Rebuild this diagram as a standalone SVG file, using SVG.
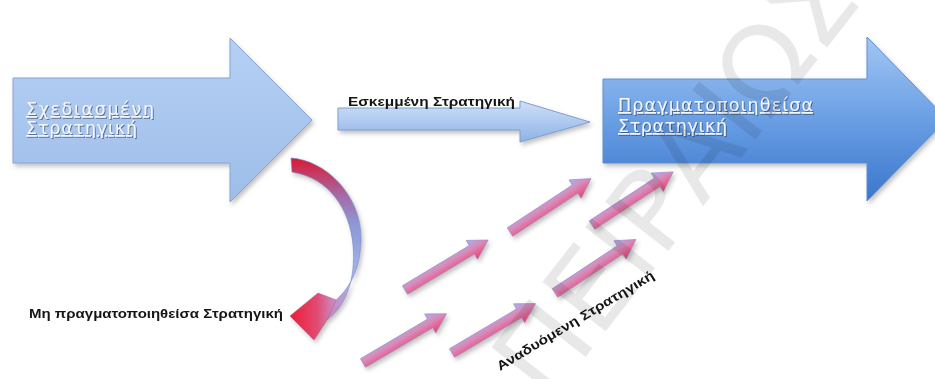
<svg xmlns="http://www.w3.org/2000/svg" width="935" height="379" viewBox="0 0 935 379">
<style>
.lbl{font-family:"DejaVu Sans","Liberation Sans",sans-serif;font-size:17.5px;fill:#f3f6ff;text-decoration:underline}
.cap{font-family:"Liberation Sans","DejaVu Sans",sans-serif;font-weight:bold;font-size:12.5px;fill:#151515}
.cap2{font-family:"Liberation Sans","DejaVu Sans",sans-serif;font-weight:bold;font-size:13px;fill:#151515}
.wm{font-family:"DejaVu Sans",sans-serif;font-size:110px;fill:#000;fill-opacity:0.09}
</style>
<defs>
<filter id="sh" x="-10%" y="-10%" width="130%" height="130%">
<feDropShadow dx="2" dy="3" stdDeviation="2" flood-color="#555" flood-opacity="0.35"/>
</filter>
<filter id="tsh" x="-5%" y="-20%" width="110%" height="150%">
<feDropShadow dx="1" dy="1" stdDeviation="0.6" flood-color="#203050" flood-opacity="0.6"/>
</filter>
<linearGradient id="gL" x1="0" y1="38" x2="0" y2="202" gradientUnits="userSpaceOnUse">
<stop offset="0" stop-color="#b6d0f4"/><stop offset="1" stop-color="#9dbde9"/>
</linearGradient>
<linearGradient id="gR" x1="0" y1="37" x2="0" y2="201" gradientUnits="userSpaceOnUse">
<stop offset="0" stop-color="#a2c6f5"/><stop offset="0.5" stop-color="#6a9fe4"/><stop offset="1" stop-color="#3a76cc"/>
</linearGradient>
<linearGradient id="gM" x1="0" y1="101" x2="0" y2="142" gradientUnits="userSpaceOnUse">
<stop offset="0" stop-color="#cfe0f8"/><stop offset="1" stop-color="#8fb2e6"/>
</linearGradient>
<linearGradient id="gC" x1="0" y1="157" x2="0" y2="310" gradientUnits="userSpaceOnUse">
<stop offset="0" stop-color="#dc1630"/><stop offset="0.25" stop-color="#a56aa6"/><stop offset="0.45" stop-color="#8c9ad8"/><stop offset="0.8" stop-color="#a3b6f0"/><stop offset="1" stop-color="#c58ac0"/>
</linearGradient>
<linearGradient id="gH" x1="290" y1="0" x2="335" y2="0" gradientUnits="userSpaceOnUse">
<stop offset="0" stop-color="#ee1c36"/><stop offset="0.6" stop-color="#e24a72"/><stop offset="1" stop-color="#c890c4"/>
</linearGradient>
<linearGradient id="gS" x1="0" y1="0" x2="0" y2="1">
<stop offset="0" stop-color="#a9b2f2"/><stop offset="0.45" stop-color="#d98ab8"/><stop offset="1" stop-color="#ee3f6d"/>
</linearGradient>
<path id="small" d="M0,-5 L78,-5 L78,-11 L97,0 L78,11 L78,5 L0,5 Z" fill="url(#gS)" stroke="#9a86c0" stroke-width="0.6"/>
</defs>
<rect width="935" height="379" fill="#ffffff"/>
<g id="node-planned">
<polygon points="13,78 230,78 230,38 312,120 230,202 230,163 13,163" fill="url(#gL)" stroke="#86a5d4" stroke-width="1" filter="url(#sh)"/>
<g filter="url(#tsh)">
<text class="lbl" x="26" y="115" textLength="128" lengthAdjust="spacing">Σχεδιασμένη</text>
<text class="lbl" x="26" y="134" textLength="111" lengthAdjust="spacing">Στρατηγική</text>
</g>
</g>
<g id="node-realized">
<polygon points="603,79 867,79 867,37 947,119 867,201 867,163 603,163" fill="url(#gR)" stroke="#5f8fd0" stroke-width="1" filter="url(#sh)"/>
<g filter="url(#tsh)">
<text class="lbl" x="618" y="111" textLength="195" lengthAdjust="spacing">Πραγματοποιηθείσα</text>
<text class="lbl" x="618" y="132" textLength="109" lengthAdjust="spacing">Στρατηγική</text>
</g>
</g>
<g id="connectors">
<polygon id="conn-deliberate" points="338,108 520,108 520,101 590,122 520,142 520,130 338,130" fill="url(#gM)" stroke="#7d9fd0" stroke-width="1" filter="url(#sh)"/>
<g id="conn-unrealized" filter="url(#sh)">
<path d="M291,158 C325,160 362,195 361,240 C360,270 350,288 334,302 L327,320 C345,306 356,282 353,245 C350,210 330,178 292,172 Z" fill="url(#gC)" stroke="#7c86c4" stroke-width="0.6"/>
<path d="M336,300 L318,293 L290,316 L314,340 L327,320 Z" fill="url(#gH)" stroke="#b05080" stroke-width="0.5"/>
</g>
<g id="conn-emergent" filter="url(#sh)">
<use href="#small" transform="translate(363,363) rotate(-30.5)"/>
<use href="#small" transform="translate(405,290) rotate(-31)"/>
<use href="#small" transform="translate(452,353) rotate(-30.6)"/>
<use href="#small" transform="translate(510,232) rotate(-33.4)"/>
<use href="#small" transform="translate(555,293) rotate(-33.5)"/>
<use href="#small" transform="translate(592,225) rotate(-33.2)"/>
</g>
</g>
<g id="label-deliberate">
<text class="cap" x="348" y="106" textLength="167" lengthAdjust="spacingAndGlyphs">Εσκεμμένη Στρατηγική</text>
</g>
<g id="label-unrealized">
<text class="cap" x="29" y="318" textLength="254" lengthAdjust="spacingAndGlyphs">Μη πραγματοποιηθείσα Στρατηγική</text>
</g>
<g id="label-emergent">
<text class="cap2" transform="translate(500,371) rotate(-31)" textLength="181" lengthAdjust="spacingAndGlyphs">Αναδυόμενη Στρατηγική</text>
</g>
<g id="watermark">
<text class="wm" transform="translate(548,405) rotate(-52)">ΠΕΙΡΑΙΩΣ</text>
</g>
</svg>
